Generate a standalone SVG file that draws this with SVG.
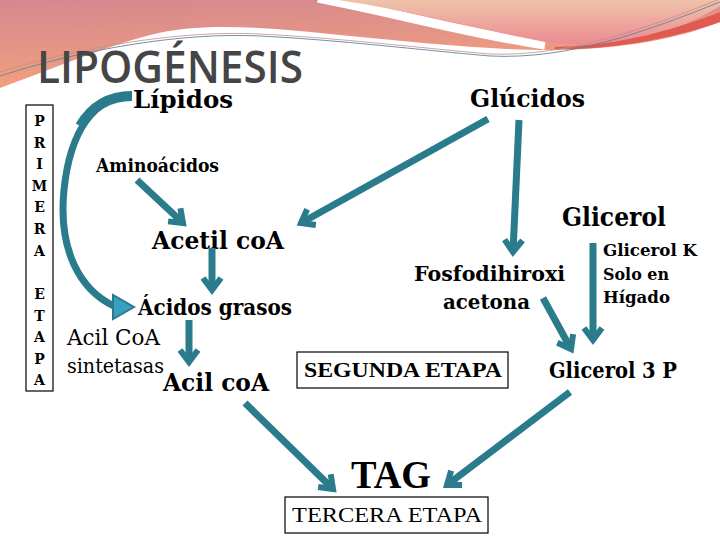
<svg xmlns="http://www.w3.org/2000/svg" width="720" height="540" viewBox="0 0 720 540">
<defs>
  <linearGradient id="gBand" x1="0" y1="0" x2="0.3" y2="1">
    <stop offset="0" stop-color="#d5878f"/>
    <stop offset="1" stop-color="#f4a27c"/>
  </linearGradient>
  <linearGradient id="gPeach" x1="0" y1="0" x2="0" y2="1">
    <stop offset="0" stop-color="#efc3aa"/>
    <stop offset="1" stop-color="#ec8a92"/>
  </linearGradient>
  <marker id="chev" markerUnits="userSpaceOnUse" viewBox="0 0 22 24" markerWidth="22" markerHeight="24" refX="15" refY="12" orient="auto">
    <path d="M3,3 L15,12 L3,21" fill="none" stroke="#2a7b8c" stroke-width="6" stroke-linejoin="miter"/>
  </marker>
  <style>
    .ser{font-family:'DejaVu Serif','Liberation Serif',serif;font-weight:bold;fill:#000}
    .reg{font-family:'DejaVu Serif','Liberation Serif',serif;fill:#000}
    .tms{font-family:'Liberation Serif','Times New Roman',serif;fill:#000}
    .arr{fill:none;stroke:#2a7b8c;stroke-width:7;marker-end:url(#chev)}
    .box{fill:none;stroke:#000;stroke-width:1.2}
  </style>
</defs>
<rect width="720" height="540" fill="#fff"/>
<g id="header">
  <path d="M0,0 H720 V22 C690,34 640,48 560,50 C500,51 420,43 330,34 C260,27 200,22 150,35 C100,48 50,70 0,88 Z" fill="url(#gBand)"/>
  <path d="M318,-2 C400,14 470,34 545,45" fill="none" stroke="#fff" stroke-width="9"/>
  <path d="M338,0 C420,12 480,30 545,42 C620,52 680,30 720,6 V0 Z" fill="url(#gPeach)"/>
  <path d="M555,47 C620,46 680,28 720,12 V22 C680,36 620,50 555,49 Z" fill="#e05a52"/>
  <path d="M0,76 C80,50 180,32 260,36 C340,40 420,50 490,56 C570,60 650,30 720,2" fill="none" stroke="#5f8797" stroke-width="0.9"/>
  <path d="M0,72 C80,47 180,30 260,34 C340,38 420,48 490,54 C570,57 650,27 720,-1" fill="none" stroke="#c98a90" stroke-width="0.8"/>
  <text x="37" y="83" font-family="'Open Sans','Liberation Sans',sans-serif" font-weight="600" font-size="46" fill="#454545" textLength="266" lengthAdjust="spacingAndGlyphs">LIPOGÉNESIS</text>
</g>
<g id="primera">
  <rect class="box" x="26" y="105" width="27" height="286"/>
  <g class="ser" font-size="14" text-anchor="middle">
    <text x="39.5" y="126">P</text><text x="39.5" y="148">R</text><text x="39.5" y="169">I</text>
    <text x="39.5" y="191">M</text><text x="39.5" y="212">E</text><text x="39.5" y="234">R</text>
    <text x="39.5" y="256">A</text><text x="39.5" y="299">E</text><text x="39.5" y="321">T</text>
    <text x="39.5" y="342">A</text><text x="39.5" y="364">P</text><text x="39.5" y="385">A</text>
  </g>
</g>
<g id="lipidos"><text class="ser" x="133" y="108" font-size="25" textLength="100" lengthAdjust="spacingAndGlyphs">Lípidos</text></g>
<g id="glucidos"><text class="ser" x="470" y="107" font-size="25" textLength="115" lengthAdjust="spacingAndGlyphs">Glúcidos</text></g>
<g id="aminoacidos"><text class="ser" x="96" y="172" font-size="18" textLength="123" lengthAdjust="spacingAndGlyphs">Aminoácidos</text></g>
<g id="acetil"><text class="ser" x="152" y="249" font-size="25" textLength="132" lengthAdjust="spacingAndGlyphs">Acetil coA</text></g>
<g id="acidos"><text class="ser" x="138" y="315" font-size="23" textLength="154" lengthAdjust="spacingAndGlyphs">Ácidos grasos</text></g>
<g id="acilcoa-sint">
  <text class="reg" x="67" y="345" font-size="22" textLength="93" lengthAdjust="spacingAndGlyphs">Acil CoA</text>
  <text class="reg" x="67" y="373" font-size="20" textLength="97" lengthAdjust="spacingAndGlyphs">sintetasas</text>
</g>
<g id="acil"><text class="ser" x="163" y="391" font-size="25" textLength="106" lengthAdjust="spacingAndGlyphs">Acil coA</text></g>
<g id="glicerol"><text class="ser" x="562" y="226" font-size="26" textLength="104" lengthAdjust="spacingAndGlyphs">Glicerol</text></g>
<g id="glicerolk" class="ser" font-size="16">
  <text x="603" y="256" textLength="94" lengthAdjust="spacingAndGlyphs">Glicerol K</text>
  <text x="603" y="280" textLength="66" lengthAdjust="spacingAndGlyphs">Solo en</text>
  <text x="603" y="303" textLength="67" lengthAdjust="spacingAndGlyphs">Hígado</text>
</g>
<g id="fosfo" class="ser" font-size="21">
  <text x="414" y="281" textLength="151" lengthAdjust="spacingAndGlyphs">Fosfodihiroxi</text>
  <text x="443" y="309" textLength="87" lengthAdjust="spacingAndGlyphs">acetona</text>
</g>
<g id="segunda">
  <rect class="box" x="297" y="352" width="211" height="36"/>
  <text class="tms" font-weight="bold" x="304" y="377" font-size="21" textLength="198" lengthAdjust="spacingAndGlyphs">SEGUNDA ETAPA</text>
</g>
<g id="glicerol3p"><text class="ser" x="549" y="378" font-size="22" textLength="128" lengthAdjust="spacingAndGlyphs">Glicerol 3 P</text></g>
<g id="tag"><text class="tms" font-weight="bold" x="351" y="488" font-size="39" textLength="80" lengthAdjust="spacingAndGlyphs">TAG</text></g>
<g id="tercera">
  <rect class="box" x="285" y="497" width="203" height="36"/>
  <text class="tms" x="292" y="522" font-size="21" textLength="190" lengthAdjust="spacingAndGlyphs">TERCERA ETAPA</text>
</g>
<g id="connectors">
  <path d="M132,96 C95,96 70,130 64,190 C58,250 80,290 114,306" fill="none" stroke="#2a7b8c" stroke-width="7"/>
  <path d="M132,96 C110,96 92,106 80,126" fill="none" stroke="#2a7b8c" stroke-width="10"/>
  <polygon points="113,295 113,319 134,307" fill="#3aa0bf" stroke="#2a7b8c" stroke-width="2"/>
  <line class="arr" x1="137" y1="180" x2="183" y2="223"/>
  <line class="arr" x1="212" y1="248" x2="212" y2="290"/>
  <line class="arr" x1="189" y1="320" x2="189" y2="362"/>
  <line class="arr" x1="488" y1="119" x2="301" y2="223"/>
  <line class="arr" x1="519" y1="120" x2="513" y2="252"/>
  <line class="arr" x1="543" y1="298" x2="571" y2="349"/>
  <line class="arr" x1="593" y1="243" x2="593" y2="340"/>
  <line class="arr" x1="245" y1="403" x2="333" y2="489"/>
  <line class="arr" x1="570" y1="392" x2="447" y2="485"/>
</g>
</svg>
